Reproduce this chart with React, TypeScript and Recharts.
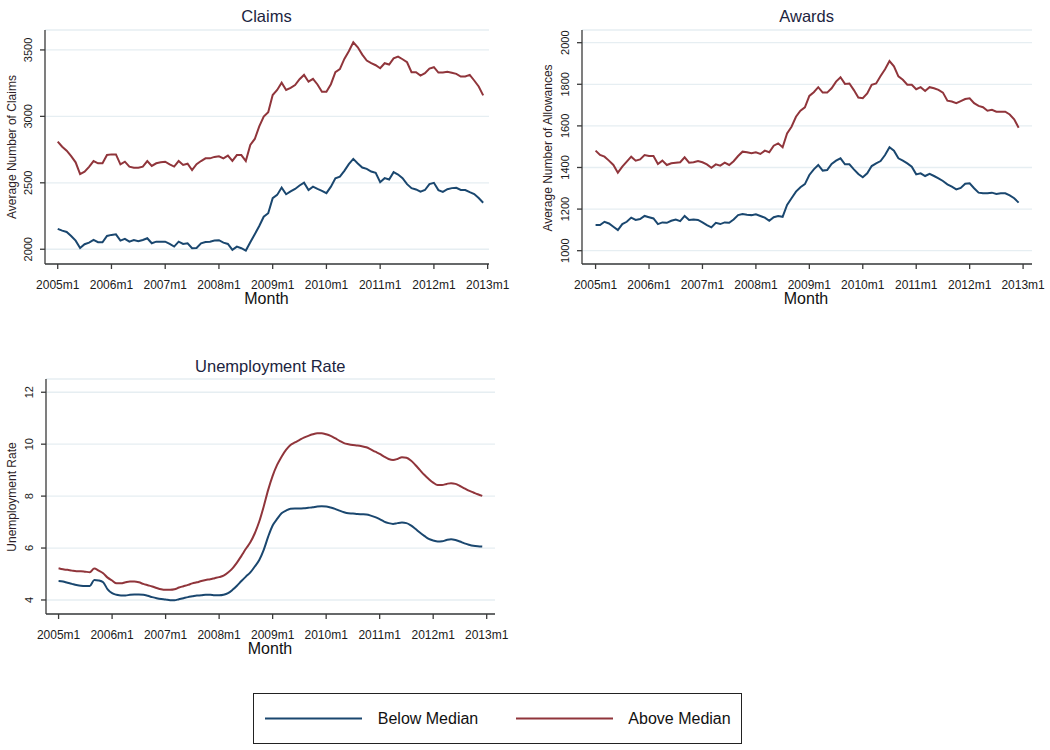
import React from "react";
import { LineChart, Line, XAxis, YAxis, CartesianGrid } from "recharts";

const FONT = "'Liberation Sans', Arial, sans-serif";
const BLUE = "#1a476f";
const RED = "#90353b";
const GRID = "#e6eef2";
const AXIS = "#3a3a3a";

// month index 0 = 2005m1 ... 95 = 2012m12
const MONTH_TICKS = [0, 12, 24, 36, 48, 60, 72, 84, 96];
const MONTH_LABELS = ["2005m1", "2006m1", "2007m1", "2008m1", "2009m1", "2010m1", "2011m1", "2012m1", "2013m1"];

const CLAIMS_TICKS = [2000, 2500, 3000, 3500];
const AWARDS_TICKS = [1000, 1200, 1400, 1600, 1800, 2000];
const UNEMP_TICKS = [4, 6, 8, 10, 12];

const CLAIMS_BELOW = [
  2153, 2140, 2130, 2100, 2065, 2010, 2038, 2050, 2070, 2053, 2053, 2100,
  2108, 2112, 2065, 2078, 2057, 2070, 2060, 2070, 2083, 2045, 2057, 2057,
  2057, 2040, 2020, 2057, 2040, 2045, 2008, 2010, 2045, 2055, 2057, 2065,
  2068, 2050, 2040, 1995, 2020, 2008, 1990, 2053, 2113, 2175, 2245, 2271,
  2385, 2409, 2464, 2414, 2435, 2454, 2480, 2501, 2446, 2471, 2454, 2440,
  2422, 2471, 2534, 2547, 2590, 2640, 2680, 2645, 2615, 2605, 2585, 2575,
  2505, 2535, 2525, 2580, 2562, 2535, 2490, 2460, 2450, 2433, 2446, 2490,
  2500, 2445, 2432, 2452, 2460, 2462, 2446, 2446, 2430, 2415, 2385, 2350,
];

const CLAIMS_ABOVE = [
  2810, 2772, 2742, 2701, 2654, 2566, 2584, 2620, 2664, 2647, 2647, 2709,
  2714, 2714, 2639, 2659, 2622, 2614, 2614, 2622, 2664, 2627, 2647, 2654,
  2659, 2639, 2622, 2664, 2634, 2644, 2596, 2640, 2664, 2684, 2684, 2695,
  2700, 2684, 2705, 2665, 2709, 2709, 2664, 2785, 2830, 2925, 2998, 3031,
  3161, 3199, 3254, 3199, 3215, 3236, 3280, 3312, 3261, 3282, 3240, 3186,
  3186, 3242, 3332, 3355, 3432, 3490, 3558, 3520, 3465, 3420, 3400, 3385,
  3362, 3400, 3390, 3437, 3450, 3430, 3407, 3332, 3332, 3307, 3325, 3360,
  3370, 3330, 3330, 3335, 3328, 3320, 3300, 3300, 3312, 3270, 3225, 3158,
];

const AWARDS_BELOW = [
  1123, 1123, 1139, 1131, 1115, 1099, 1128, 1139, 1159, 1148, 1152, 1167,
  1161, 1155, 1128, 1136, 1134, 1144, 1150, 1142, 1167, 1148, 1150, 1148,
  1136, 1123, 1112, 1134, 1128, 1136, 1134, 1150, 1171, 1176, 1173, 1171,
  1175, 1167, 1159, 1144, 1161, 1167, 1163, 1220, 1252, 1284, 1305, 1320,
  1364, 1391, 1412, 1385, 1388, 1417, 1433, 1444, 1415, 1415, 1391, 1369,
  1353, 1372, 1407, 1420, 1431, 1460, 1497, 1481, 1444, 1433, 1420, 1404,
  1367, 1372, 1359, 1369, 1359, 1348, 1335, 1319, 1308, 1295, 1302, 1322,
  1324, 1300, 1279, 1276, 1276, 1279, 1273, 1276, 1276, 1266, 1252, 1231,
];

const AWARDS_ABOVE = [
  1481, 1460, 1452, 1433, 1412, 1375, 1404, 1428, 1452, 1433, 1439, 1460,
  1455, 1455, 1417, 1433, 1412, 1420, 1423, 1425, 1449, 1423, 1425, 1431,
  1425, 1415, 1399, 1415, 1409, 1423, 1412, 1430, 1455, 1476, 1473, 1468,
  1473, 1465, 1481, 1473, 1505, 1516, 1497, 1564, 1596, 1644, 1673, 1689,
  1744, 1762, 1786, 1760, 1760, 1781, 1813, 1834, 1802, 1804, 1772, 1736,
  1733, 1756, 1797, 1804, 1840, 1872, 1912, 1886, 1838, 1822, 1798, 1798,
  1776, 1786, 1768, 1786, 1781, 1773, 1760, 1721, 1717, 1709, 1719, 1729,
  1733, 1709, 1696, 1690, 1673, 1677, 1668, 1668, 1668, 1655, 1632, 1591,
];

const UNEMP_BELOW = [
  4.73, 4.71, 4.66, 4.62, 4.58, 4.55, 4.54, 4.54, 4.77, 4.75, 4.68, 4.41,
  4.26, 4.20, 4.17, 4.17, 4.20, 4.21, 4.21, 4.20, 4.16, 4.11, 4.07, 4.04,
  4.02, 3.99, 3.99, 4.03, 4.07, 4.11, 4.14, 4.17, 4.18, 4.20, 4.20, 4.18,
  4.18, 4.20, 4.26, 4.39, 4.55, 4.73, 4.90, 5.06, 5.29, 5.54, 5.93, 6.44,
  6.87, 7.12, 7.34, 7.44, 7.51, 7.52, 7.52, 7.53, 7.55, 7.57, 7.60, 7.61,
  7.60, 7.56, 7.51, 7.44, 7.38, 7.34, 7.33, 7.31, 7.30, 7.29, 7.25, 7.19,
  7.11, 7.02, 6.96, 6.93, 6.96, 6.98, 6.96, 6.87, 6.74, 6.60, 6.47, 6.35,
  6.29, 6.25, 6.26, 6.31, 6.34, 6.31, 6.25, 6.18, 6.13, 6.09, 6.07, 6.06,
];

const UNEMP_ABOVE = [
  5.22, 5.18, 5.16, 5.13, 5.11, 5.11, 5.09, 5.07, 5.21, 5.13, 5.03, 4.86,
  4.75, 4.64, 4.64, 4.68, 4.71, 4.71, 4.68, 4.62, 4.57, 4.52, 4.46, 4.41,
  4.39, 4.39, 4.41, 4.48, 4.53, 4.58, 4.64, 4.68, 4.73, 4.77, 4.80, 4.84,
  4.88, 4.94, 5.06, 5.22, 5.44, 5.70, 5.97, 6.22, 6.57, 7.02, 7.60, 8.24,
  8.78, 9.20, 9.52, 9.78, 9.97, 10.07, 10.16, 10.25, 10.32, 10.38, 10.42, 10.42,
  10.38, 10.32, 10.23, 10.13, 10.04, 10.00, 9.97, 9.95, 9.92, 9.88, 9.80, 9.71,
  9.63, 9.52, 9.43, 9.39, 9.43, 9.50, 9.48, 9.37, 9.20, 9.01, 8.82, 8.66,
  8.52, 8.43, 8.43, 8.47, 8.50, 8.47, 8.39, 8.30, 8.21, 8.14, 8.07, 8.01,
];

const toRows = (below: number[], above: number[]) =>
  below.map((v, i) => ({ m: i, below: v, above: above[i] }));

const VTick = (props: any) => {
  const { x, y, payload } = props;
  return (
    <text
      transform={`translate(${x - 5},${y}) rotate(-90)`}
      textAnchor="middle"
      fontSize={11}
      fontFamily={FONT}
      fill="#1a1a1a"
    >
      {payload.value}
    </text>
  );
};

function Txt({ x, y, size, color, rotate, children }: any) {
  return (
    <div
      style={{
        position: "absolute",
        left: x - 200,
        top: y - size * 0.49,
        width: 400,
        height: size,
        textAlign: "center",
        fontSize: size,
        lineHeight: `${size}px`,
        color,
        fontFamily: FONT,
        whiteSpace: "nowrap",
        transform: rotate ? "rotate(-90deg)" : undefined,
      }}
    >
      {children}
    </div>
  );
}

function Panel({ box, margin, xDomain, yDomain, yTicks, rows, curve }: any) {
  return (
    <div style={{ position: "absolute", left: box.left, top: box.top }}>
      <LineChart width={box.width} height={box.height} data={rows} margin={margin}>
        <CartesianGrid horizontal vertical={false} stroke={GRID} strokeWidth={1.3} />
        <XAxis
          dataKey="m"
          type="number"
          domain={xDomain}
          allowDataOverflow
          ticks={MONTH_TICKS}
          interval={0}
          tickFormatter={(v: number) => MONTH_LABELS[MONTH_TICKS.indexOf(v)]}
          height={46}
          tickSize={5}
          tickMargin={11}
          axisLine={{ stroke: AXIS, strokeWidth: 1.3 }}
          tickLine={{ stroke: AXIS, strokeWidth: 1.3 }}
          tick={{ fontSize: 12, fill: "#1a1a1a", fontFamily: FONT }}
        />
        <YAxis
          type="number"
          domain={yDomain}
          allowDataOverflow
          ticks={yTicks}
          interval={0}
          width={40}
          tickSize={5}
          tickMargin={3}
          axisLine={{ stroke: AXIS, strokeWidth: 1.3 }}
          tickLine={{ stroke: AXIS, strokeWidth: 1.3 }}
          tick={<VTick />}
        />
        <Line type={curve} dataKey="below" stroke={BLUE} strokeWidth={2} dot={false} isAnimationActive={false} />
        <Line type={curve} dataKey="above" stroke={RED} strokeWidth={2} dot={false} isAnimationActive={false} />
      </LineChart>
    </div>
  );
}

export default function App() {
  const titleColor = "#1c2440";
  const labelColor = "#111111";
  const yTitleColor = "#2e1d26";
  return (
    <div style={{ position: "absolute", left: 0, top: 0, width: 1050, height: 750, background: "#fff", fontFamily: FONT }}>
      <Panel
        box={{ left: 0, top: 0, width: 530, height: 310 }}
        margin={{ top: 30, right: 41, bottom: 0, left: 5 }}
        xDomain={[-2.84, 96.3]}
        yDomain={[1889, 3650]}
        yTicks={CLAIMS_TICKS}
        rows={toRows(CLAIMS_BELOW, CLAIMS_ABOVE)}
        curve="linear"
      />
      <Panel
        box={{ left: 530, top: 0, width: 520, height: 310 }}
        margin={{ top: 30, right: 18, bottom: 0, left: 12 }}
        xDomain={[-3.05, 98.0]}
        yDomain={[936, 2061]}
        yTicks={AWARDS_TICKS}
        rows={toRows(AWARDS_BELOW, AWARDS_ABOVE)}
        curve="linear"
      />
      <Panel
        box={{ left: 0, top: 350, width: 530, height: 310 }}
        margin={{ top: 29, right: 35, bottom: 0, left: 6 }}
        xDomain={[-2.82, 97.86]}
        yDomain={[3.46, 12.51]}
        yTicks={UNEMP_TICKS}
        rows={toRows(UNEMP_BELOW, UNEMP_ABOVE)}
        curve="monotone"
      />

      <Txt x={266.5} y={16.3} size={16.5} color={titleColor}>Claims</Txt>
      <Txt x={806.7} y={16.3} size={16.5} color={titleColor}>Awards</Txt>
      <Txt x={270.3} y={366} size={16.5} color={titleColor}>Unemployment Rate</Txt>

      <Txt x={266.5} y={299} size={16} color={labelColor}>Month</Txt>
      <Txt x={806} y={299} size={16} color={labelColor}>Month</Txt>
      <Txt x={270} y={649} size={16} color={labelColor}>Month</Txt>

      <Txt x={12} y={147} size={12} color={yTitleColor} rotate>Average Number of Claims</Txt>
      <Txt x={548} y={147.5} size={12} color={yTitleColor} rotate>Average Number of Allowances</Txt>
      <Txt x={12} y={496.5} size={12} color={yTitleColor} rotate>Unemployment Rate</Txt>

      <div
        style={{
          position: "absolute",
          left: 253,
          top: 693,
          width: 489,
          height: 51,
          boxSizing: "border-box",
          border: "1.5px solid #222",
        }}
      >
        <svg width={486} height={48} style={{ position: "absolute", left: 0, top: 0 }}>
          <line x1={11} x2={108} y1={24.5} y2={24.5} stroke={BLUE} strokeWidth={2.2} />
          <line x1={262} x2={359} y1={24.5} y2={24.5} stroke={RED} strokeWidth={2.2} />
        </svg>
      </div>
      <Txt x={378 + 50} y={719} size={16} color="#111">Below Median</Txt>
      <Txt x={628 + 51.5} y={719} size={16} color="#111">Above Median</Txt>
    </div>
  );
}
